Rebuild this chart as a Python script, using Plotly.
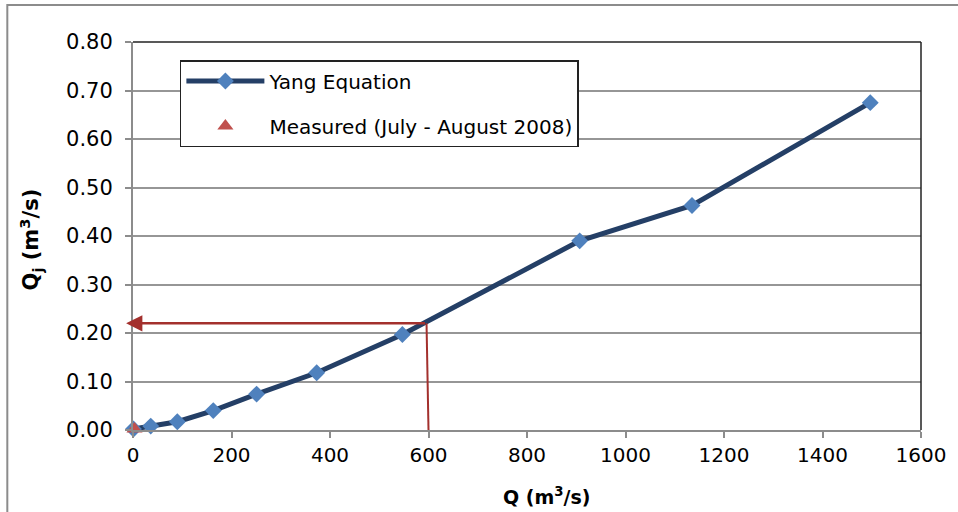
import plotly.graph_objects as go

# Data
yang_q = [1, 36, 90, 163, 251, 373, 547, 907, 1135, 1497]
yang_qj = [0.002, 0.008, 0.017, 0.040, 0.074, 0.118, 0.197, 0.390, 0.463, 0.675]
meas_q = [3]
meas_qj = [0.002]

arrow_q = 600
arrow_qj = 0.22

x_ticks = [0, 200, 400, 600, 800, 1000, 1200, 1400, 1600]
y_ticks = [0.0, 0.1, 0.2, 0.3, 0.4, 0.5, 0.6, 0.7, 0.8]

FONT = "DejaVu Sans"
RED = "#A3302D"

fig = go.Figure()
fig.add_trace(go.Scatter(
    x=yang_q, y=yang_qj, mode="lines+markers", name="Yang Equation",
    line=dict(color="#243F66", width=5),
    marker=dict(symbol="diamond", size=13, color="#4F81BD"),
    cliponaxis=False, legendgroup="a",
))
fig.add_trace(go.Scatter(
    x=meas_q, y=meas_qj, mode="markers", name="Measured (July - August 2008)",
    marker=dict(symbol="triangle-up", size=14, color="#C0504D"),
    cliponaxis=False, legendgroup="b",
))

fig.add_annotation(
    x=-14, y=arrow_qj, ax=arrow_q - 4, ay=arrow_qj, xref="x", yref="y",
    axref="x", ayref="y", showarrow=True, arrowhead=2, arrowsize=1.3,
    arrowwidth=2.5, arrowcolor=RED, text="",
)
fig.add_shape(type="line", x0=arrow_q - 4, y0=arrow_qj, x1=arrow_q, y1=0,
              xref="x", yref="y", line=dict(color=RED, width=2))

# plot-area top/right border
fig.add_shape(type="line", xref="paper", yref="paper", x0=0, y0=1, x1=1, y1=1,
              line=dict(color="#222222", width=1.5))
fig.add_shape(type="line", xref="paper", yref="paper", x0=1, y0=0, x1=1, y1=1,
              line=dict(color="#222222", width=1.5))
# outer chart border
fig.add_shape(type="rect", xref="paper", yref="paper", x0=-0.1595, y0=-0.3,
              x1=1.08, y1=1.0954, line=dict(color="#8c8c8c", width=2))

fig.add_annotation(text="<b>Q (m<sup>3</sup>/s)</b>", xref="paper", yref="paper",
                   x=0.525, y=-0.170, showarrow=False, xanchor="center",
                   yanchor="middle", font=dict(family=FONT, size=19, color="black"))
fig.add_annotation(text="<b>Q<sub>j</sub> (m<sup>3</sup>/s)</b>", xref="paper",
                   yref="paper", x=-0.130, y=0.49, textangle=-90, showarrow=False,
                   xanchor="center", yanchor="middle",
                   font=dict(family=FONT, size=21, color="black"))

fig.update_layout(
    width=958, height=512,
    margin=dict(l=133, r=35, t=42, b=82),
    paper_bgcolor="white", plot_bgcolor="white",
    font=dict(family=FONT, size=20, color="black"),
    legend=dict(x=0.0595, y=0.9536, xanchor="left", yanchor="top",
                bgcolor="white", bordercolor="#222222", borderwidth=1.5,
                tracegroupgap=16, itemwidth=78,
                font=dict(family=FONT, size=20, color="black")),
    showlegend=True,
)
fig.update_xaxes(range=[0, 1600], tickvals=x_ticks, showgrid=False,
                 zeroline=False, showline=True, linecolor="#8c8c8c", linewidth=2,
                 ticks="outside", ticklen=6, tickcolor="#8c8c8c", tickwidth=1.5,
                 tickfont=dict(family=FONT, size=20))
fig.update_yaxes(range=[0, 0.8], tickvals=y_ticks, tickformat=".2f",
                 showgrid=True, gridcolor="#969696", gridwidth=1.5,
                 zeroline=False, showline=True, linecolor="#8c8c8c", linewidth=2,
                 ticks="outside", ticklen=6, tickcolor="#8c8c8c", tickwidth=1.5,
                 ticklabelstandoff=8, tickfont=dict(family=FONT, size=21))

fig.write_html("out.html")
